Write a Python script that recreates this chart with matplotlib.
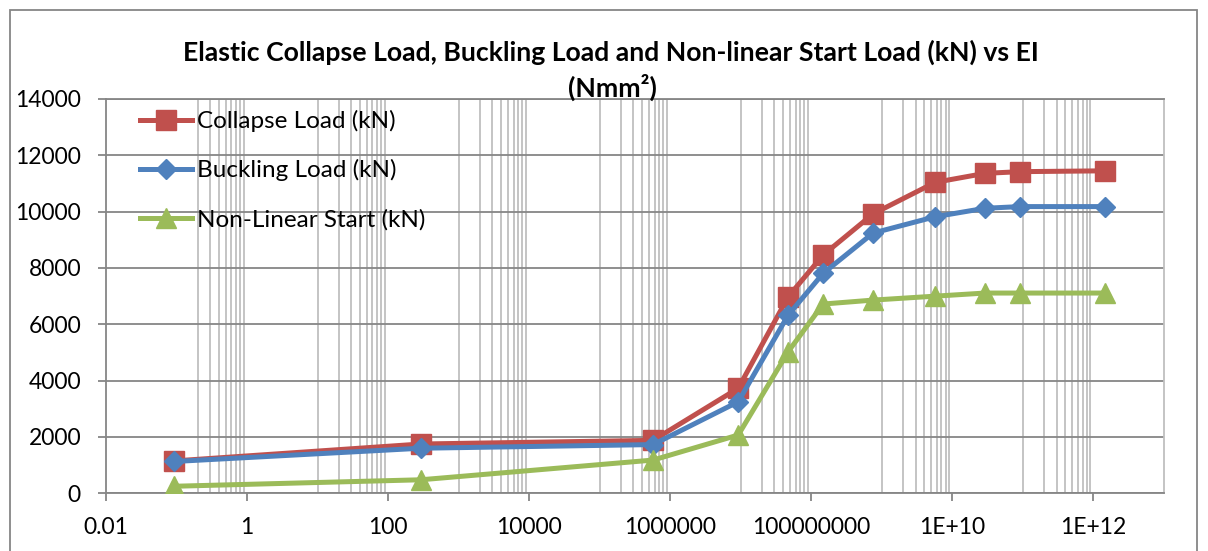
import numpy as np
import matplotlib
matplotlib.use("Agg")
import matplotlib.pyplot as plt
from matplotlib.patches import Rectangle
from matplotlib.ticker import FixedLocator, FixedFormatter, NullFormatter

plt.rcParams['font.family'] = ['Lato', 'DejaVu Sans']

# Flexural stiffness EI (Nmm^2) and the corresponding loads (kN)
ei = [0.093, 290, 5.7e5, 9.2e6, 4.7e7, 1.47e8, 7.5e8, 5.7e9, 2.9e10, 9.1e10, 1.47e12]
collapse = [1150, 1750, 1880, 3730, 6980, 8460, 9920, 11040, 11360, 11420, 11450]
buckling = [1130, 1600, 1730, 3250, 6330, 7810, 9240, 9820, 10120, 10180, 10180]
nonlinear = [250, 480, 1180, 2070, 5030, 6720, 6860, 7000, 7110, 7110, 7110]

series_names = ["Collapse Load (kN)", "Buckling Load (kN)", "Non-Linear Start (kN)"]
x_ticks = [1e-2, 1e0, 1e2, 1e4, 1e6, 1e8, 1e10, 1e12]
x_tick_labels = ["0.01", "1", "100", "10000", "1000000", "100000000", "1E+10", "1E+12"]
y_ticks = [0, 2000, 4000, 6000, 8000, 10000, 12000, 14000]

RED = "#C0504D"
BLUE = "#4F81BD"
GREEN = "#9BBB59"
AXIS_GREY = "#868686"
GRID_LIGHT = "#BFBFBF"

W, H = 1208, 551
fig = plt.figure(figsize=(W / 100, H / 100), dpi=100)
ax = fig.add_axes([106 / W, 1 - 493.3 / H, (1164 - 106) / W, (493.3 - 99) / H])

ax.set_xscale("log")
ax.set_xlim(1e-2, 1e13)
ax.set_ylim(0, 14000)

# minor vertical gridlines: n * 10^(odd) within each two-decade band
minor_pos = []
for k in range(-1, 12, 2):
    for n in range(1, 10):
        if k == -1 and n == 1:
            continue
        minor_pos.append(n * 10.0 ** k)
ax.xaxis.set_minor_locator(FixedLocator(minor_pos))
ax.xaxis.set_minor_formatter(NullFormatter())
ax.xaxis.set_major_locator(FixedLocator(x_ticks))
ax.xaxis.set_major_formatter(FixedFormatter(x_tick_labels))
ax.set_yticks(y_ticks)

ax.grid(which="minor", axis="x", color=GRID_LIGHT, linewidth=1.3)
ax.grid(which="major", axis="y", color=AXIS_GREY, linewidth=1.3)
ax.set_axisbelow(True)

ax.tick_params(axis="x", which="minor", length=0)
ax.tick_params(axis="both", which="major", direction="out", length=6,
               width=1.3, color=AXIS_GREY, labelsize=16.5, labelcolor="black")
ax.tick_params(axis="y", pad=12)
ax.tick_params(axis="x", pad=11)

for side in ("left", "bottom"):
    ax.spines[side].set_color(AXIS_GREY)
    ax.spines[side].set_linewidth(1.3)
ax.spines["top"].set_color(AXIS_GREY)
ax.spines["top"].set_linewidth(1.3)
ax.spines["right"].set_color(GRID_LIGHT)
ax.spines["right"].set_linewidth(1.3)

lw = 3.6
ax.plot(ei, collapse, color=RED, lw=lw, marker="s", ms=14, mec=RED,
        label=series_names[0], zorder=3)
ax.plot(ei, buckling, color=BLUE, lw=lw, marker="D", ms=10.5, mec=BLUE,
        label=series_names[1], zorder=4)
ax.plot(ei, nonlinear, color=GREEN, lw=lw, marker="^", ms=14, mec=GREEN,
        label=series_names[2], zorder=5)

ax.legend(loc="upper left", bbox_to_anchor=(140 / W, 1 - 110 / H),
          bbox_transform=fig.transFigure, frameon=False, fontsize=17.5,
          numpoints=1, handlelength=2.15, handletextpad=0.2,
          labelspacing=1.12, borderpad=0, borderaxespad=0)

fig.text(0.506, 1 - 52 / H,
         "Elastic Collapse Load, Buckling Load and Non-linear Start Load (kN) vs EI",
         ha="center", va="center", fontsize=19.2, fontweight="bold")
fig.text(0.507, 1 - 87 / H, "(Nmm²)", ha="center", va="center",
         fontsize=19.2, fontweight="bold")

# chart frame
fig.add_artist(Rectangle((10 / W, -0.05), (1197 - 10) / W, 1 - 10 / H + 0.05,
                         transform=fig.transFigure, fill=False,
                         edgecolor=AXIS_GREY, linewidth=1.3))

fig.savefig("out.png", dpi=100)
